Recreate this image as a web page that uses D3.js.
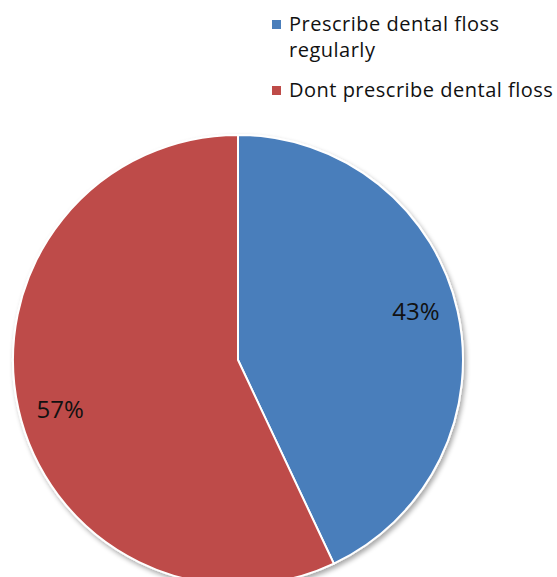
<!DOCTYPE html>
<html>
<head>
<meta charset="utf-8">
<script src="https://cdn.jsdelivr.net/npm/d3@7"></script>
<style>
  body { margin: 0; background: #fff; }
  svg { display: block; font-family: "Open Sans", Lato, sans-serif; }
</style>
</head>
<body>
<div id="chart"></div>
<script>
const categories = ["Prescribe dental floss regularly", "Dont prescribe dental floss"];
const values = [43, 57];
const legendLines = [["Prescribe dental floss", "regularly"], ["Dont prescribe dental floss"]];
const colors = ["#4a7ebb", "#be4b48"];

const width = 557, height = 577;
const cx = 238, cy = 360, radius = 225;

const svg = d3.select("#chart").append("svg")
    .attr("width", width)
    .attr("height", height);

const defs = svg.append("defs");
const shadow = defs.append("filter").attr("id", "shadow")
    .attr("x", "-10%").attr("y", "-10%").attr("width", "120%").attr("height", "120%");
shadow.append("feGaussianBlur").attr("in", "SourceAlpha").attr("stdDeviation", 2.5);
shadow.append("feOffset").attr("dx", 2).attr("dy", 3).attr("result", "blur");
shadow.append("feComponentTransfer").append("feFuncA").attr("type", "linear").attr("slope", 0.35);
const merge = shadow.append("feMerge");
merge.append("feMergeNode");
merge.append("feMergeNode").attr("in", "SourceGraphic");

const data = categories.map((c, i) => ({ name: c, value: values[i], color: colors[i] }));

const pie = d3.pie().value(d => d.value).sort(null);
const arc = d3.arc().innerRadius(0).outerRadius(radius);
const labelArc = d3.arc().innerRadius(radius * 0.81).outerRadius(radius * 0.81);

const g = svg.append("g").attr("transform", `translate(${cx},${cy})`);
const arcs = pie(data);

g.append("g").attr("filter", "url(#shadow)")
    .selectAll("path")
    .data(arcs)
    .join("path")
    .attr("d", arc)
    .attr("fill", d => d.data.color)
    .attr("stroke", "#fff")
    .attr("stroke-width", 2);

// excel "best fit" pushes the labels a bit further from the horizontal
g.selectAll(".label")
    .data(arcs)
    .join("text")
    .attr("class", "label")
    .attr("transform", d => {
        const [x, y] = labelArc.centroid(d);
        return `translate(${x},${y + (y < 0 ? -9 : 10)})`;
    })
    .attr("text-anchor", "middle")
    .attr("dy", "0.35em")
    .attr("font-size", 24)
    .attr("fill", "#111")
    .text(d => d.data.value + "%");

// legend
const legend = svg.append("g").attr("transform", "translate(272,0)");
const rowY = [31, 97];
legendLines.forEach((lines, i) => {
    const row = legend.append("g").attr("transform", `translate(0,${rowY[i]})`);
    row.append("rect")
        .attr("x", 0).attr("y", -11)
        .attr("width", 9).attr("height", 9)
        .attr("fill", colors[i]);
    row.append("text")
        .attr("x", 17)
        .attr("font-size", 20)
        .attr("letter-spacing", 0.5)
        .attr("fill", "#111")
        .selectAll("tspan")
        .data(lines)
        .join("tspan")
        .attr("x", 17)
        .attr("dy", (d, j) => j === 0 ? 0 : 26)
        .text(d => d);
});
</script>
</body>
</html>
